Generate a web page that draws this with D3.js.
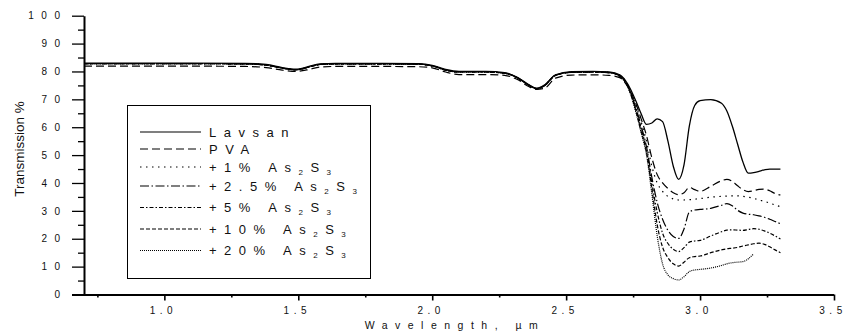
<!DOCTYPE html>
<html>
<head>
<meta charset="utf-8">
<script src="https://cdn.jsdelivr.net/npm/d3@7"></script>
<style>
  body { margin: 0; background: #fff; }
  svg { display: block; font-family: Arial, "Liberation Sans", sans-serif; }
</style>
</head>
<body>
<div id="chart"></div>
<script>
// wavelength grid, µm
const wavelength = [0.70, 0.90, 1.10, 1.30, 1.38, 1.44, 1.49, 1.54, 1.58, 1.64,
  1.80, 1.95, 2.00, 2.05, 2.10, 2.20, 2.27, 2.32, 2.36, 2.39,
  2.42, 2.46, 2.52, 2.60, 2.66, 2.70, 2.73, 2.76, 2.78, 2.80,
  2.82, 2.84, 2.86, 2.88, 2.90, 2.92, 2.94, 2.96, 2.98, 3.00,
  3.04, 3.08, 3.10, 3.12, 3.14, 3.16, 3.18, 3.20, 3.22, 3.24,
  3.26, 3.28, 3.30];

const lavsan = [83.0, 83.0, 83.0, 82.9, 82.5, 81.4, 80.8, 81.8, 82.7, 82.9,
  82.9, 82.8, 82.2, 80.7, 80.0, 80.0, 79.6, 77.8, 75.3, 74.0,
  75.2, 78.8, 79.9, 80.0, 79.8, 78.8, 75.5, 69.5, 64.8, 61.0,
  61.5, 63.0, 62.0, 55.0, 46.0, 41.3, 46.5, 60.5, 67.8, 69.5,
  69.9, 68.6, 65.8, 60.5, 54.0, 47.5, 43.5, 43.7, 44.2, 44.7,
  45.0, 45.0, 45.0];

const pva = [81.9, 81.9, 81.9, 81.8, 81.4, 80.5, 80.0, 80.7, 81.6, 81.8,
  81.8, 81.7, 81.3, 79.8, 78.9, 78.9, 78.6, 77.0, 74.6, 73.6,
  74.0, 77.6, 78.7, 78.8, 78.6, 77.8, 74.5, 68.5, 63.0, 57.0,
  49.0, 43.0, 40.0, 38.0, 36.5, 35.8, 36.5, 38.4, 37.6, 37.0,
  38.8, 40.8, 41.3, 40.6, 39.0, 37.6, 36.9, 37.2, 37.7, 37.8,
  37.2, 36.2, 35.7];

const as1 = [82.8, 82.8, 82.8, 82.7, 82.3, 81.2, 80.6, 81.6, 82.5, 82.7,
  82.7, 82.6, 82.0, 80.5, 79.8, 79.8, 79.4, 77.6, 75.1, 73.8,
  75.0, 78.6, 79.7, 79.8, 79.6, 78.6, 75.3, 68.0, 62.0, 55.0,
  46.0, 40.0, 37.0, 35.2, 34.3, 33.9, 33.9, 34.0, 34.2, 34.4,
  34.9, 35.2, 35.3, 35.4, 35.4, 35.2, 34.9, 34.5, 33.9, 33.4,
  32.8, 32.1, 31.5];

const as2_5 = [82.8, 82.8, 82.8, 82.7, 82.3, 81.2, 80.6, 81.6, 82.5, 82.7,
  82.7, 82.6, 82.0, 80.5, 79.8, 79.8, 79.4, 77.6, 75.1, 73.8,
  75.0, 78.6, 79.7, 79.8, 79.6, 78.5, 75.0, 67.0, 60.5, 53.0,
  42.0, 33.0, 27.0, 23.0, 20.8, 20.1, 23.5, 29.6, 30.3, 30.5,
  30.9, 32.0, 32.6, 31.8, 30.2, 29.2, 28.8, 28.6, 28.2, 27.7,
  27.0, 26.2, 25.4];

const as5 = [82.8, 82.8, 82.8, 82.7, 82.3, 81.2, 80.6, 81.6, 82.5, 82.7,
  82.7, 82.6, 82.0, 80.5, 79.8, 79.8, 79.4, 77.6, 75.1, 73.8,
  75.0, 78.6, 79.7, 79.8, 79.6, 78.4, 74.8, 66.5, 59.5, 52.0,
  40.0, 29.5, 22.0, 18.3, 16.2, 15.4, 16.8, 18.8, 19.2, 19.4,
  21.0, 22.5, 23.1, 23.2, 23.1, 23.0, 23.3, 23.6, 23.4, 22.8,
  22.0, 21.0, 19.9];

const as10 = [82.8, 82.8, 82.8, 82.7, 82.3, 81.2, 80.6, 81.6, 82.5, 82.7,
  82.7, 82.6, 82.0, 80.5, 79.8, 79.8, 79.4, 77.6, 75.1, 73.8,
  75.0, 78.6, 79.7, 79.8, 79.6, 78.3, 74.6, 66.0, 58.5, 51.0,
  38.0, 25.0, 17.0, 13.2, 11.0, 10.2, 11.6, 13.2, 13.6, 13.8,
  15.0, 16.0, 16.4, 16.6, 16.9, 17.4, 17.8, 18.2, 18.4, 18.0,
  17.1, 16.0, 15.0];

const as20 = [82.8, 82.8, 82.8, 82.7, 82.3, 81.2, 80.6, 81.6, 82.5, 82.7,
  82.7, 82.6, 82.0, 80.5, 79.8, 79.8, 79.4, 77.6, 75.1, 73.8,
  75.0, 78.6, 79.7, 79.8, 79.6, 78.2, 74.4, 65.5, 58.0, 50.0,
  36.0, 21.0, 11.0, 7.0, 5.7, 5.2, 6.4, 8.2, 8.8, 9.0,
  9.5, 10.4, 11.0, 11.4, 11.6, 11.8, 12.8, 14.6, null, null,
  null, null, null];

const seriesLabels = ["Lavsan", "PVA", "+1%", "+2.5%", "+5%", "+10%", "+20%"];
const seriesValues = [lavsan, pva, as1, as2_5, as5, as10, as20];

const xTicks = [1.0, 1.5, 2.0, 2.5, 3.0, 3.5];
const xMinorTicks = [0.75, 1.25, 1.75, 2.25, 2.75, 3.25];
const yTicks = [0, 10, 20, 30, 40, 50, 60, 70, 80, 90, 100];
const yMinorTicks = [5, 15, 25, 35, 45, 55, 65, 75, 85, 95];

// line looks, same order as the series
const dashes = [null, "8,4", "1.5,4.5", "9,2.5,1.5,2.5", "4,2,1.5,2", "4,2", "1,1"];
const widths = [1.3, 1.2, 1.2, 1.2, 1.2, 1.2, 1.2];
const legendRowY = [132, 149, 167, 186, 207.5, 229, 250.5];

const width = 847, height = 334;
const x = d3.scaleLinear().domain([0.7, 3.5]).range([84, 834]);
const y = d3.scaleLinear().domain([0, 100]).range([294.5, 15.7]);

const svg = d3.select("#chart").append("svg")
  .attr("width", width)
  .attr("height", height);

const line = d3.line()
  .defined(d => d[1] != null)
  .curve(d3.curveMonotoneX)
  .x(d => x(d[0]))
  .y(d => y(d[1]));

svg.append("g")
  .selectAll("path")
  .data(seriesValues)
  .join("path")
  .attr("fill", "none")
  .attr("stroke", "#000")
  .attr("stroke-width", (d, i) => widths[i])
  .attr("stroke-dasharray", (d, i) => dashes[i])
  .attr("d", v => line(wavelength.map((w, j) => [w, v[j]])));

// y axis
const yAxis = svg.append("g").attr("transform", "translate(84,0)");
yAxis.append("g")
  .call(d3.axisLeft(y).tickValues(yMinorTicks).tickSize(6).tickFormat(""))
  .call(g => g.select(".domain").remove());
yAxis.append("g")
  .call(d3.axisLeft(y).tickValues(yTicks).tickSize(12).tickSizeOuter(0).tickPadding(12))
  .call(g => g.selectAll("text")
    .attr("font-size", 10)
    .attr("font-family", "Arial, 'Liberation Sans', sans-serif")
    .attr("fill", "#111")
    .attr("letter-spacing", 7.5)
    .attr("dx", 7.5));
yAxis.selectAll(".tick line").attr("stroke-width", 1.3);
yAxis.select(".domain").attr("stroke-width", 2);

// x axis
const xAxis = svg.append("g").attr("transform", "translate(0,294.5)");
xAxis.append("g")
  .call(d3.axisBottom(x).tickValues(xMinorTicks).tickSize(3).tickFormat(""))
  .call(g => g.select(".domain").remove());
xAxis.append("g")
  .call(d3.axisBottom(x).tickValues(xTicks).tickSize(6).tickSizeOuter(0).tickPadding(6)
    .tickFormat(d3.format(".1f")))
  .call(g => g.selectAll("text")
    .attr("font-size", 10)
    .attr("font-family", "Arial, 'Liberation Sans', sans-serif")
    .attr("fill", "#111")
    .attr("letter-spacing", 4.5)
    .attr("dx", -1.5));
xAxis.selectAll(".tick line").attr("stroke-width", 1.6);
xAxis.select(".domain").attr("stroke-width", 2).attr("d", "M72,0.5H834");

// axis titles
svg.append("text")
  .attr("x", 455)
  .attr("y", 329)
  .attr("text-anchor", "middle")
  .attr("font-size", 10.5)
  .attr("letter-spacing", 7.5)
  .attr("fill", "#111")
  .text("Wavelength, µm");

svg.append("text")
  .attr("transform", "translate(24,149) rotate(-90)")
  .attr("text-anchor", "middle")
  .attr("font-size", 13.5)
  .attr("fill", "#111")
  .text("Transmission %");

// legend
const legend = svg.append("g");
legend.append("rect")
  .attr("x", 127.5).attr("y", 105.5)
  .attr("width", 243).attr("height", 173)
  .attr("fill", "#fff")
  .attr("stroke", "#000")
  .attr("stroke-width", 1);

seriesLabels.forEach((lab, i) => {
  const ly = legendRowY[i];
  legend.append("line")
    .attr("x1", 140).attr("x2", 201)
    .attr("y1", ly).attr("y2", ly)
    .attr("stroke", "#000")
    .attr("stroke-width", 1.1)
    .attr("stroke-dasharray", dashes[i]);
  const t = legend.append("text")
    .attr("x", 209).attr("y", ly + 4.5)
    .attr("font-size", 13)
    .attr("letter-spacing", 7.5)
    .attr("fill", "#111");
  t.append("tspan").text(lab);
  if (i > 1) {
    t.append("tspan").text(" As");
    t.append("tspan").attr("font-size", 8).attr("dy", 3).text("2");
    t.append("tspan").attr("dy", -3).text("S");
    t.append("tspan").attr("font-size", 8).attr("dy", 3).text("3");
  }
});
</script>
</body>
</html>
